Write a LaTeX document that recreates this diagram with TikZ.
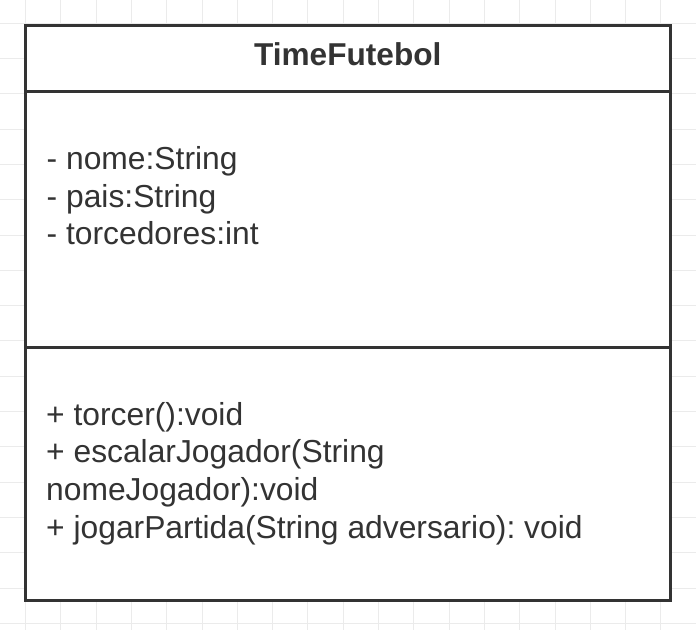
\documentclass[tikz,border=0pt]{standalone}
\usepackage{fontspec}
\setmainfont{Liberation Sans}
\definecolor{ink}{HTML}{333333}
\definecolor{gridline}{HTML}{EBEBEB}
\begin{document}
\frenchspacing
\begin{tikzpicture}[x=1pt,y=-1pt,
  frame/.style={draw=ink, line width=3pt, fill=white, inner sep=0pt, outer sep=0pt, anchor=north west},
  divider/.style={draw=ink, line width=3pt},
  member/.style={anchor=base west, inner sep=0pt, text=ink, font=\fontsize{31.8}{38}\selectfont},
  classname/.style={anchor=base, inner sep=0pt, text=ink, font=\fontsize{31.6}{38}\selectfont\bfseries}]
\useasboundingbox (0,0) rectangle (696,630);
\fill[white] (0,0) rectangle (696,630);
% background grid
\foreach \gx in {25.5,60.8,...,700} \draw[gridline, line width=1pt] (\gx,0) -- (\gx,630);
\foreach \gy in {23.2,58.5,...,640} \draw[gridline, line width=1pt] (0,\gy) -- (696,\gy);
% class box
\node[frame, minimum width=645.5pt, minimum height=575pt] (cls) at (25,25.5) {};
\coordinate (headL) at (25,91.5);
\coordinate (headR) at (670.5,91.5);
\coordinate (attrL) at (25,347);
\coordinate (attrR) at (670.5,347);
\draw[divider] (headL) -- (headR);
\draw[divider] (attrL) -- (attrR);
% class name
\node[classname] (title) at (347.75,65) {TimeFutebol};
% attributes
\node[member] (a1) at (46.5,169.5) {- nome:String};
\node[member] (a2) at (46.5,207.2) {- pais:String};
\node[member] (a3) at (46.5,244.9) {- torcedores:int};
% operations
\node[member] (m1) at (46,425) {+ torcer():void};
\node[member] (m2) at (46,462.7) {+ escalarJogador(String};
\node[member] (m3) at (46,500.4) {nomeJogador):void};
\node[member] (m4) at (46,538.1) {+ jogarPartida(String adversario): void};
\end{tikzpicture}
\end{document}
